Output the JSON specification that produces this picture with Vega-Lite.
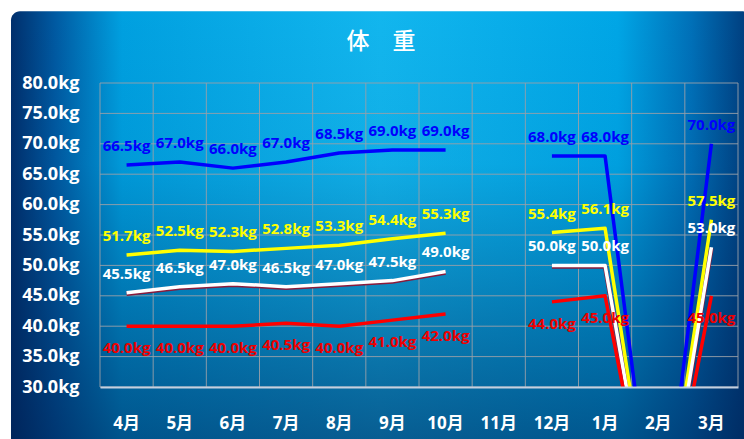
{
  "$schema": "https://vega.github.io/schema/vega-lite/v6.json",
  "width": 638,
  "height": 304,
  "autosize": {"type": "none"},
  "padding": {"left": 100, "top": 83, "right": 6, "bottom": 52},
  "background": "white",
  "config": {
    "view": {"stroke": null},
    "axisX": {"grid": false, "ticks": false, "domainColor": "#c4d0e0", "domainWidth": 2, "labelColor": "white", "labelFont": "Open Sans, Noto Sans CJK SC", "labelFontSize": 17, "labelFontWeight": "bold", "labelPadding": 28, "labelAngle": 0},
    "axisY": {"grid": false, "domain": false, "ticks": false, "tickCount": 10, "labelExpr": "format(datum.value, '.1f') + 'kg'", "labelColor": "white", "labelFont": "Open Sans", "labelFontSize": 18, "labelFontWeight": "bold", "labelPadding": 21}
  },
  "title": {"text": "体　重", "color": "white", "font": "Noto Sans CJK SC", "fontSize": 23, "fontWeight": 500, "anchor": "middle", "dx": -38, "baseline": "middle", "offset": -54, "zindex": 1},
  "datasets": {
    "w": [
      {"m": "4月", "s": "系列1", "v": 66.5}, {"m": "5月", "s": "系列1", "v": 67.0}, {"m": "6月", "s": "系列1", "v": 66.0}, {"m": "7月", "s": "系列1", "v": 67.0}, {"m": "8月", "s": "系列1", "v": 68.5}, {"m": "9月", "s": "系列1", "v": 69.0}, {"m": "10月", "s": "系列1", "v": 69.0}, {"m": "11月", "s": "系列1", "v": null}, {"m": "12月", "s": "系列1", "v": 68.0}, {"m": "1月", "s": "系列1", "v": 68.0}, {"m": "2月", "s": "系列1", "v": 0}, {"m": "3月", "s": "系列1", "v": 70.0},
      {"m": "4月", "s": "系列2", "v": 51.7}, {"m": "5月", "s": "系列2", "v": 52.5}, {"m": "6月", "s": "系列2", "v": 52.3}, {"m": "7月", "s": "系列2", "v": 52.8}, {"m": "8月", "s": "系列2", "v": 53.3}, {"m": "9月", "s": "系列2", "v": 54.4}, {"m": "10月", "s": "系列2", "v": 55.3}, {"m": "11月", "s": "系列2", "v": null}, {"m": "12月", "s": "系列2", "v": 55.4}, {"m": "1月", "s": "系列2", "v": 56.1}, {"m": "2月", "s": "系列2", "v": 0}, {"m": "3月", "s": "系列2", "v": 57.5},
      {"m": "4月", "s": "系列3", "v": 45.5}, {"m": "5月", "s": "系列3", "v": 46.5}, {"m": "6月", "s": "系列3", "v": 47.0}, {"m": "7月", "s": "系列3", "v": 46.5}, {"m": "8月", "s": "系列3", "v": 47.0}, {"m": "9月", "s": "系列3", "v": 47.5}, {"m": "10月", "s": "系列3", "v": 49.0}, {"m": "11月", "s": "系列3", "v": null}, {"m": "12月", "s": "系列3", "v": 50.0}, {"m": "1月", "s": "系列3", "v": 50.0}, {"m": "2月", "s": "系列3", "v": 0}, {"m": "3月", "s": "系列3", "v": 53.0},
      {"m": "4月", "s": "系列4", "v": 40.0}, {"m": "5月", "s": "系列4", "v": 40.0}, {"m": "6月", "s": "系列4", "v": 40.0}, {"m": "7月", "s": "系列4", "v": 40.5}, {"m": "8月", "s": "系列4", "v": 40.0}, {"m": "9月", "s": "系列4", "v": 41.0}, {"m": "10月", "s": "系列4", "v": 42.0}, {"m": "11月", "s": "系列4", "v": null}, {"m": "12月", "s": "系列4", "v": 44.0}, {"m": "1月", "s": "系列4", "v": 45.0}, {"m": "2月", "s": "系列4", "v": 0}, {"m": "3月", "s": "系列4", "v": 45.0}
    ],
    "ticks": [{"t": 30}, {"t": 35}, {"t": 40}, {"t": 45}, {"t": 50}, {"t": 55}, {"t": 60}, {"t": 65}, {"t": 70}, {"t": 75}, {"t": 80}]
  },
  "resolve": {"scale": {"x": "independent", "y": "independent"}},
  "layer": [
    {
      "data": {"values": [{}]},
      "mark": {"type": "rect", "cornerRadius": 9, "fill": {"gradient": "linear", "x1": 0, "y1": 0, "x2": 1, "y2": 0, "stops": [
        {"offset": 0, "color": "#002f6c"}, {"offset": 0.06, "color": "#005aa2"}, {"offset": 0.15, "color": "#00a0e0"}, {"offset": 0.5, "color": "#12b6ee"}, {"offset": 0.82, "color": "#00a6e6"}, {"offset": 0.92, "color": "#0070b8"}, {"offset": 1, "color": "#003a7a"}]}},
      "encoding": {
        "x": {"datum": -0.1395, "type": "quantitative", "scale": {"domain": [0, 1]}, "axis": null},
        "x2": {"datum": 1.02},
        "y": {"datum": 91.8, "type": "quantitative", "scale": {"domain": [30, 80]}, "axis": null},
        "y2": {"datum": 20}
      }
    },
    {
      "data": {"values": [{}]},
      "mark": {"type": "rect", "cornerRadius": 9, "fill": {"gradient": "linear", "x1": 0, "y1": 0, "x2": 0, "y2": 1, "stops": [
        {"offset": 0, "color": "rgba(0,30,80,0)"}, {"offset": 0.35, "color": "rgba(0,30,80,0.05)"}, {"offset": 0.7, "color": "rgba(0,30,80,0.35)"}, {"offset": 1, "color": "rgba(0,30,80,0.6)"}]}},
      "encoding": {
        "x": {"datum": -0.1395, "type": "quantitative", "scale": {"domain": [0, 1]}, "axis": null},
        "x2": {"datum": 1.02},
        "y": {"datum": 91.8, "type": "quantitative", "scale": {"domain": [30, 80]}, "axis": null},
        "y2": {"datum": 20}
      }
    },
    {
      "resolve": {"scale": {"color": "independent"}},
      "layer": [
        {
          "data": {"name": "ticks"},
          "mark": {"type": "rule", "color": "#98a0a8", "strokeWidth": 1, "opacity": 0.9},
          "encoding": {"y": {"field": "t", "type": "quantitative", "scale": {"domain": [30, 80]}, "axis": {"title": null, "zindex": 1}}}
        },
        {
          "data": {"name": "w"},
          "transform": [{"filter": "datum.s === '系列1'"}],
          "mark": {"type": "rule", "color": "#98a0a8", "strokeWidth": 1, "opacity": 0.9},
          "encoding": {"x": {"field": "m", "type": "ordinal", "sort": null, "bandPosition": 0, "scale": {"domain": ["4月", "5月", "6月", "7月", "8月", "9月", "10月", "11月", "12月", "1月", "2月", "3月"], "paddingInner": 0, "paddingOuter": 0}, "axis": {"title": null, "zindex": 1}}}
        },
        {
          "data": {"name": "w"},
          "transform": [{"filter": "datum.s === '系列1' && datum.m === '3月'"}],
          "mark": {"type": "rule", "color": "#98a0a8", "strokeWidth": 1, "opacity": 0.9},
          "encoding": {"x": {"field": "m", "type": "ordinal", "sort": null, "bandPosition": 1, "scale": {"domain": ["4月", "5月", "6月", "7月", "8月", "9月", "10月", "11月", "12月", "1月", "2月", "3月"], "paddingInner": 0, "paddingOuter": 0}, "axis": {"title": null, "zindex": 1}}}
        },
        {
          "data": {"name": "w"},
          "transform": [{"calculate": "isValid(datum.v) ? format(datum.v, '.1f') + 'kg' : ''", "as": "lbl"}],
          "encoding": {
            "x": {"field": "m", "type": "ordinal", "sort": null, "scale": {"domain": ["4月", "5月", "6月", "7月", "8月", "9月", "10月", "11月", "12月", "1月", "2月", "3月"], "paddingInner": 0, "paddingOuter": 0}, "axis": {"title": null, "zindex": 1}},
            "y": {"field": "v", "type": "quantitative", "scale": {"domain": [30, 80]}, "axis": {"title": null, "zindex": 1}}
          },
          "layer": [
            {
              "transform": [{"filter": "datum.s === '系列3'"}],
              "mark": {"type": "line", "interpolate": "linear", "clip": true, "strokeWidth": 4.5, "color": "#8a1a3a", "yOffset": 1, "invalid": "break-paths-filter-domains"}
            },
            {
              "mark": {"type": "line", "interpolate": "linear", "clip": true, "strokeWidth": 3.5, "strokeJoin": "round", "invalid": "break-paths-filter-domains"},
              "encoding": {"color": {"field": "s", "type": "nominal", "scale": {"domain": ["系列1", "系列2", "系列3", "系列4"], "range": ["#0000ff", "#ffff00", "#ffffff", "#ff0000"]}, "legend": null}}
            },
            {
              "transform": [{"filter": "isValid(datum.v) && datum.v > 0 && datum.s !== '系列4'"}],
              "mark": {"type": "text", "font": "Open Sans", "fontSize": 15, "fontWeight": "bold", "baseline": "middle", "dy": -19},
              "encoding": {
                "text": {"field": "lbl"},
                "color": {"field": "s", "type": "nominal", "scale": {"domain": ["系列1", "系列2", "系列3", "系列4"], "range": ["#1414d8", "#ffff00", "#ffffff", "#ee0000"]}, "legend": null}
              }
            },
            {
              "transform": [{"filter": "isValid(datum.v) && datum.v > 0 && datum.s === '系列4'"}],
              "mark": {"type": "text", "font": "Open Sans", "fontSize": 15, "fontWeight": "bold", "baseline": "middle", "dy": 22, "color": "#ee0000"},
              "encoding": {"text": {"field": "lbl"}}
            }
          ]
        }
      ]
    }
  ]
}
